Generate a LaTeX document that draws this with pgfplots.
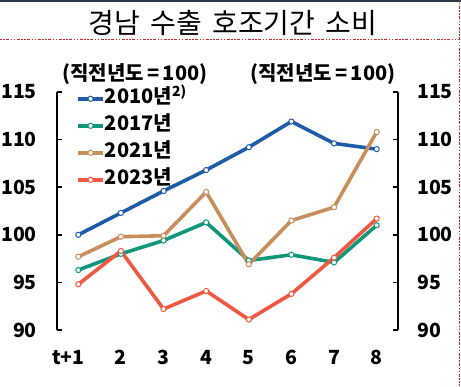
\documentclass[border=0pt]{standalone}
\usepackage{fontspec}
\setmainfont{Noto Sans CJK KR}
\usepackage{pgfplots}
\pgfplotsset{compat=1.18}
\definecolor{cA}{RGB}{30,92,168}
\definecolor{cB}{RGB}{16,150,122}
\definecolor{cC}{RGB}{200,142,92}
\definecolor{cD}{RGB}{240,88,66}
\definecolor{dotred}{RGB}{200,40,40}
\definecolor{topline}{RGB}{40,56,72}
\pgfplotsset{
  myaxis/.style={
    at={(57pt,56pt)}, anchor=south west, scale only axis,
    width=341pt, height=238pt,
    xmin=0.5, xmax=8.5, ymin=90, ymax=115,
    enlargelimits=false, clip=false,
    ytick={90,95,100,105,110,115},
    tick align=inside, major tick length=5pt,
    ytick style={line width=1.5pt, black},
    y axis line style={-, line width=1.5pt, black},
    /pgf/number format/assume math mode=true,
    ticklabel style={font=\fontsize{19.5}{20}\selectfont\bfseries, inner sep=0pt},
  },
  myplot/.style={line width=3.6pt, color=#1, mark=*, mark size=2.6pt,
    mark options={fill=white, draw=#1, line width=1pt, solid}},
}
\begin{document}
\begin{tikzpicture}[x=1pt,y=1pt]
\path[use as bounding box] (0,0) rectangle (461,386);
\draw[line width=2pt, topline] (0,385) -- (461,385);
\draw[line width=1pt, dotred, dash pattern=on 1.5pt off 1.5pt on 1.5pt off 1.5pt on 3pt off 1.5pt] (0,346) -- (459,346);
\draw[line width=1pt, dotred, dash pattern=on 1.5pt off 1.5pt on 1.5pt off 1.5pt on 3pt off 1.5pt] (459.5,386) -- (459.5,0);
\node[font=\fontsize{28}{30}\selectfont, inner sep=0pt] at (233,363.5) {경남\hspace{4pt} 수출\hspace{4pt} 호조기간\hspace{4pt} 소비};
\node[font=\fontsize{20}{20}\selectfont\bfseries, inner sep=0pt] at (135,312) {(직전년도\,=\,100)};
\node[font=\fontsize{20}{20}\selectfont\bfseries, inner sep=0pt] at (323,312) {(직전년도\,=\,100)};

\begin{axis}[myaxis,
  axis y line*=right, axis x line=none,
  yticklabel style={xshift=19pt, anchor=west},
  xtick=\empty]
\end{axis}

\begin{axis}[myaxis,
  axis y line*=left, axis x line*=bottom,
  x axis line style={draw=none},
  xtick={1,...,8}, xtick style={draw=none},
  xticklabels={{\hspace{-20pt}t+1},2,3,4,5,6,7,8},
  xticklabel style={anchor=north, yshift=-20pt},
  yticklabel style={xshift=-20pt, anchor=east},
  legend style={at={(0.056,1.01)}, anchor=north west, draw=none, fill=none,
    inner sep=0pt, row sep=9pt,
    font=\fontsize{20}{20}\selectfont\bfseries,
    nodes={inner sep=0pt, text height=14pt, text depth=4pt}},
  legend cell align=left,
  /tikz/every even column/.append style={column sep=2pt},
  legend image code/.code={\draw[mark repeat=2,mark phase=2,#1] plot coordinates {(0pt,0pt) (12.5pt,0pt) (25pt,0pt)};},
]
\addplot[myplot=cA] coordinates {(1,100.0) (2,102.3) (3,104.6) (4,106.8) (5,109.2) (6,111.9) (7,109.6) (8,109.0)};
\addplot[myplot=cB] coordinates {(1,96.3) (2,98.0) (3,99.4) (4,101.3) (5,97.3) (6,97.9) (7,97.1) (8,101.0)};
\addplot[myplot=cC] coordinates {(1,97.7) (2,99.8) (3,99.9) (4,104.5) (5,96.9) (6,101.5) (7,102.9) (8,110.8)};
\addplot[myplot=cD] coordinates {(1,94.8) (2,98.3) (3,92.2) (4,94.1) (5,91.1) (6,93.8) (7,97.6) (8,101.7)};
\legend{2010년\textsuperscript{2)},2017년,2021년,2023년}
\end{axis}
\end{tikzpicture}
\end{document}
